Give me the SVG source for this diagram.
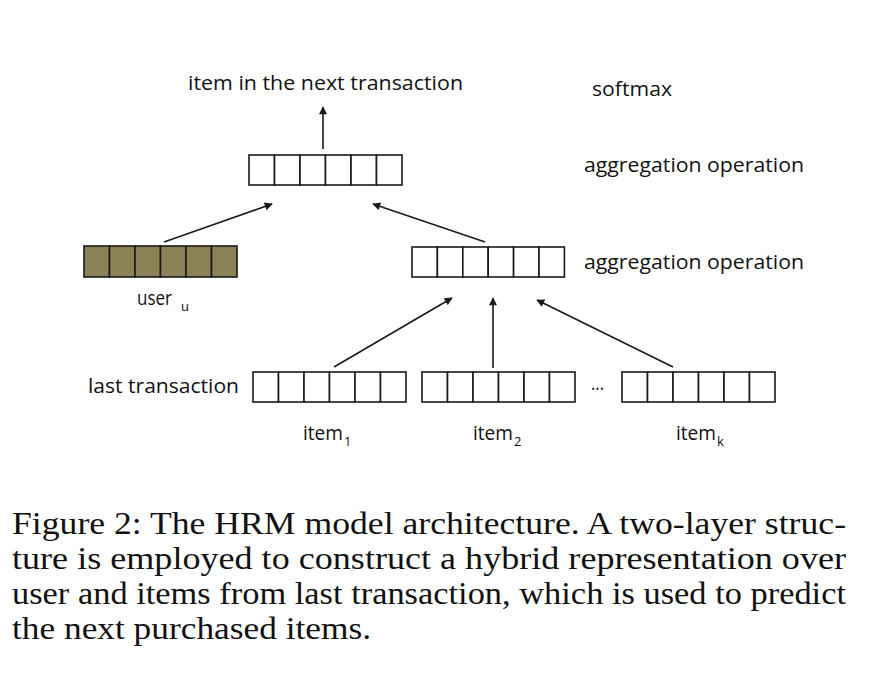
<svg xmlns="http://www.w3.org/2000/svg" width="876" height="678" viewBox="0 0 876 678">
<defs>
<marker id="ah" viewBox="0 0 10 10" refX="9" refY="5" markerWidth="10" markerHeight="8" markerUnits="userSpaceOnUse" orient="auto">
<path d="M0,0 L10,5 L0,10 z" fill="#1a1a1a"/>
</marker>
<style>
.cell{fill:#fff;stroke:#1a1a1a;stroke-width:1.6}
.ucell{fill:#8b8357;stroke:#1a1a1a;stroke-width:1.6}
.lbl{font-family:"Open Sans","Liberation Sans",sans-serif;font-size:20px;fill:#111}
.sub{font-family:"Open Sans","Liberation Sans",sans-serif;font-size:13px;fill:#111}
.cap{font-family:"Liberation Serif","Times New Roman",serif;font-size:31px;fill:#111}
.arr{stroke:#1a1a1a;stroke-width:1.6;fill:none;marker-end:url(#ah)}
</style>
</defs>
<rect width="876" height="678" fill="#fff"/>

<g id="top-vector">
<rect class="cell" x="249" y="155" width="25.5" height="30"/>
<rect class="cell" x="274.5" y="155" width="25.5" height="30"/>
<rect class="cell" x="300" y="155" width="25.5" height="30"/>
<rect class="cell" x="325.5" y="155" width="25.5" height="30"/>
<rect class="cell" x="351" y="155" width="25.5" height="30"/>
<rect class="cell" x="376.5" y="155" width="25.5" height="30"/>
</g>

<g id="user-vector">
<rect class="ucell" x="84" y="246" width="25.5" height="31"/>
<rect class="ucell" x="109.5" y="246" width="25.5" height="31"/>
<rect class="ucell" x="135" y="246" width="25.5" height="31"/>
<rect class="ucell" x="160.5" y="246" width="25.5" height="31"/>
<rect class="ucell" x="186" y="246" width="25.5" height="31"/>
<rect class="ucell" x="211.5" y="246" width="25.5" height="31"/>
</g>

<g id="mid-vector">
<rect class="cell" x="412" y="247" width="25.4" height="30"/>
<rect class="cell" x="437.4" y="247" width="25.4" height="30"/>
<rect class="cell" x="462.8" y="247" width="25.4" height="30"/>
<rect class="cell" x="488.2" y="247" width="25.4" height="30"/>
<rect class="cell" x="513.6" y="247" width="25.4" height="30"/>
<rect class="cell" x="539" y="247" width="25.4" height="30"/>
</g>

<g id="item1-vector">
<rect class="cell" x="253" y="372" width="25.5" height="30"/>
<rect class="cell" x="278.5" y="372" width="25.5" height="30"/>
<rect class="cell" x="304" y="372" width="25.5" height="30"/>
<rect class="cell" x="329.5" y="372" width="25.5" height="30"/>
<rect class="cell" x="355" y="372" width="25.5" height="30"/>
<rect class="cell" x="380.5" y="372" width="25.5" height="30"/>
</g>

<g id="item2-vector">
<rect class="cell" x="422" y="372" width="25.5" height="30"/>
<rect class="cell" x="447.5" y="372" width="25.5" height="30"/>
<rect class="cell" x="473" y="372" width="25.5" height="30"/>
<rect class="cell" x="498.5" y="372" width="25.5" height="30"/>
<rect class="cell" x="524" y="372" width="25.5" height="30"/>
<rect class="cell" x="549.5" y="372" width="25.5" height="30"/>
</g>

<g id="itemk-vector">
<rect class="cell" x="622" y="372" width="25.5" height="30"/>
<rect class="cell" x="647.5" y="372" width="25.5" height="30"/>
<rect class="cell" x="673" y="372" width="25.5" height="30"/>
<rect class="cell" x="698.5" y="372" width="25.5" height="30"/>
<rect class="cell" x="724" y="372" width="25.5" height="30"/>
<rect class="cell" x="749.5" y="372" width="25.5" height="30"/>
</g>

<g id="connectors">
<line class="arr" x1="323" y1="149" x2="323" y2="107"/>
<line class="arr" x1="164" y1="242" x2="272" y2="204"/>
<line class="arr" x1="485" y1="242" x2="373" y2="204"/>
<line class="arr" x1="334" y1="367" x2="452" y2="298"/>
<line class="arr" x1="493" y1="368" x2="493" y2="298"/>
<line class="arr" x1="673" y1="367" x2="537" y2="300"/>
</g>

<g id="labels">
<text class="lbl" x="188" y="90" textLength="275" lengthAdjust="spacingAndGlyphs">item in the next transaction</text>
<text class="lbl" x="592" y="96" textLength="80" lengthAdjust="spacingAndGlyphs">softmax</text>
<text class="lbl" x="584" y="172" textLength="220" lengthAdjust="spacingAndGlyphs">aggregation operation</text>
<text class="lbl" x="584" y="269" textLength="220" lengthAdjust="spacingAndGlyphs">aggregation operation</text>
<text class="lbl" x="137" y="305" textLength="35" lengthAdjust="spacingAndGlyphs">user</text>
<text class="sub" x="181" y="311">u</text>
<text class="lbl" x="88" y="393" textLength="151" lengthAdjust="spacingAndGlyphs">last transaction</text>
<text class="lbl" x="591" y="390" font-size="13" textLength="13" lengthAdjust="spacingAndGlyphs">...</text>
<text class="lbl" x="303" y="440" textLength="40" lengthAdjust="spacingAndGlyphs">item</text>
<text class="sub" x="344" y="446">1</text>
<text class="lbl" x="473" y="440" textLength="40" lengthAdjust="spacingAndGlyphs">item</text>
<text class="sub" x="514" y="446">2</text>
<text class="lbl" x="676" y="440" textLength="40" lengthAdjust="spacingAndGlyphs">item</text>
<text class="sub" x="717" y="446">k</text>
</g>

<g id="caption">
<text class="cap" x="12" y="534" textLength="834" lengthAdjust="spacingAndGlyphs">Figure 2: The HRM model architecture.  A two-layer struc-</text>
<text class="cap" x="12" y="569" textLength="834" lengthAdjust="spacingAndGlyphs">ture is employed to construct a hybrid representation over</text>
<text class="cap" x="12" y="604" textLength="834" lengthAdjust="spacingAndGlyphs">user and items from last transaction, which is used to predict</text>
<text class="cap" x="12" y="639" textLength="359" lengthAdjust="spacingAndGlyphs">the next purchased items.</text>
</g>
</svg>
